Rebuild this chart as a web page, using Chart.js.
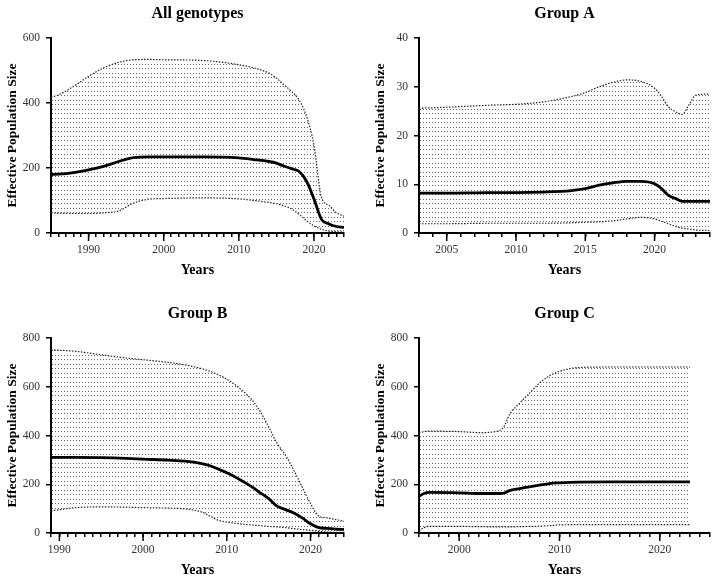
<!DOCTYPE html>
<html><head><meta charset="utf-8">
<script src="https://cdn.jsdelivr.net/npm/chart.js@4.4.1/dist/chart.umd.min.js"></script>
<style>
body{margin:0;background:#fff;width:716px;height:582px;position:relative;overflow:hidden}
canvas{position:absolute}
</style></head><body>
<canvas id="c1" width="358" height="282" style="left:0px;top:0px"></canvas>
<canvas id="c2" width="348" height="282" style="left:368px;top:0px"></canvas>
<canvas id="c3" width="358" height="282" style="left:0px;top:300px"></canvas>
<canvas id="c4" width="348" height="282" style="left:368px;top:300px"></canvas>
<script>
// ---- Data: All genotypes ----
const allYears  = [1985,1986,1988,1990,1992,1994,1996,1998,2000,2005,2010,2012,2014,2015,2016,2017,2018,2019,2020,2021,2022,2023,2024];
const allMedian = [180,181,186,194,205,220,232,234,234,234,231,226,220,215,206,198,190,160,105,42,28,20,17];
const allUpper  = [418,425,451,482,508,525,533,534,533,531,518,508,492,477,456,436,410,360,270,110,85,62,52];
const allLower  = [62,61,60,60,62,68,92,104,106,108,105,100,94,90,84,74,58,38,22,11,6,4,3];

// ---- Data: Group A ----
const aYears  = [2003,2005,2008,2010,2012,2014,2015,2016,2017,2018,2019,2020,2020.5,2021,2021.5,2022,2022.5,2023,2024];
const aMedian = [8.2,8.2,8.3,8.3,8.4,8.7,9.1,9.8,10.3,10.6,10.6,10.1,9.1,7.7,7.1,6.5,6.5,6.5,6.5];
const aUpper  = [25.6,25.8,26.2,26.4,26.9,28.0,28.8,30.0,30.9,31.4,31.1,29.7,28.0,25.9,24.9,24.3,26.4,28.3,28.5];
const aLower  = [1.9,1.9,2.0,2.0,2.0,2.1,2.2,2.3,2.5,2.9,3.2,2.9,2.4,1.9,1.4,1.0,0.8,0.6,0.5];

// ---- Data: Group B ----
const bYears  = [1989,1992,1995,1998,2000,2003,2005,2007,2008,2009,2010,2011,2012,2013,2014,2015,2016,2017,2018,2019,2020,2021,2022,2023,2024];
const bMedian = [310,310,309,306,303,299,295,285,276,262,247,230,210,189,165,141,110,96,82,62,38,22,19,16,15];
const bUpper  = [752,745,731,718,711,700,690,674,663,649,631,608,580,546,498,436,368,320,258,189,121,69,62,55,49];
const bLower  = [91,104,107,106,104,102,99,86,69,52,45,40,36,33,30,27,25,22,18,14,11,7,4,3,3];

// ---- Data: Group C ----
const cYears  = [1996,1996.5,1997,2000,2002,2004,2004.5,2005,2006,2007,2008,2009,2010,2011,2012,2015,2020,2023];
const cMedian = [151,162,167,165,162,162,164,174,182,189,196,203,206,208,209,210,210,210];
const cUpper  = [409,416,418,416,412,420,440,484,532,573,615,645,663,674,679,681,681,681];
const cLower  = [8,22,27,27,26,25,25,25,26,27,28,30,33,34,34,34,34,34];

// ---- Text ----
const yTitle = 'Effective Population Size';
const xTitle = 'Years';

const FONT = "'Liberation Serif','Times New Roman',serif";
Chart.defaults.font.family = FONT;

const majorTicks = {
  id: 'majorTicks',
  afterDraw(chart, args, opts) {
    const s = chart.scales.x, ctx = chart.ctx;
    ctx.save();
    ctx.strokeStyle = '#000';
    ctx.lineWidth = 1.5;
    s.ticks.forEach(t => {
      if (Math.round(t.value) % opts.every === 0) {
        const x = s.getPixelForValue(t.value);
        ctx.beginPath(); ctx.moveTo(x, s.top); ctx.lineTo(x, s.top + 8); ctx.stroke();
      }
    });
    ctx.restore();
  }
};

function pts(xs, ys) { return xs.map((x, i) => ({x: x, y: ys[i]})); }

function makePattern(ctx) {
  const t = document.createElement('canvas');
  t.width = 3; t.height = 9;
  const g = t.getContext('2d');
  g.fillStyle = '#666';
  g.fillRect(1, 1, 1, 1);
  g.fillRect(1, 5, 1, 1);
  return ctx.createPattern(t, 'repeat');
}

function makeChart(id, title, years, median, upper, lower, xMin, xMax, major, yMax, yStep, padRight) {
  const el = document.getElementById(id);
  const ctx = el.getContext('2d');
  const pattern = makePattern(ctx);
  const band = {borderColor: '#222', borderWidth: 1.2, borderDash: [1.5, 1.5], pointRadius: 0, cubicInterpolationMode: 'monotone'};
  new Chart(ctx, {
    type: 'line',
    data: {
      datasets: [
        {label: 'median', data: pts(years, median), borderColor: '#000', borderWidth: 2.8, pointRadius: 0, cubicInterpolationMode: 'monotone', fill: false},
        Object.assign({label: 'upper', data: pts(years, upper), fill: '+1', backgroundColor: pattern}, band),
        Object.assign({label: 'lower', data: pts(years, lower), fill: false}, band)
      ]
    },
    plugins: [majorTicks],
    options: {
      responsive: false,
      animation: false,
      layout: {padding: {left: 0, right: padRight, top: 0, bottom: 0}},
      plugins: {
        legend: {display: false},
        tooltip: {enabled: false},
        majorTicks: {every: major},
        title: {display: true, text: title, fullSize: false, color: '#000',
                font: {size: 16, weight: 'bold', family: FONT}, padding: {top: 4, bottom: 14.8}}
      },
      scales: {
        x: {
          type: 'linear', min: xMin, max: xMax,
          afterFit(s) { s.height = 49; },
          border: {display: true, color: '#000', width: 2},
          grid: {display: true, drawOnChartArea: false, drawTicks: true, tickLength: 4, color: '#000', lineWidth: 1.5},
          ticks: {stepSize: 1, autoSkip: false, maxRotation: 0, padding: 6, color: '#333',
                  font: {size: 11.5, family: FONT},
                  callback: v => (Math.round(v) % major === 0 ? String(v) : '')},
          title: {display: true, text: xTitle, color: '#000', font: {size: 14, weight: 'bold', family: FONT}, padding: {top: 0, bottom: 3.6}}
        },
        y: {
          min: 0, max: yMax,
          afterFit(s) { s.width = 51; },
          border: {display: true, color: '#000', width: 2},
          grid: {display: true, drawOnChartArea: false, drawTicks: true, tickLength: 5, color: '#000', lineWidth: 1.5},
          ticks: {stepSize: yStep, padding: 6, color: '#333', font: {size: 11.5, family: FONT}},
          title: {display: true, text: yTitle, color: '#000', font: {size: 13.5, weight: 'bold', family: FONT}, padding: {top: 4, bottom: 0}}
        }
      }
    }
  });
}

makeChart('c1', 'All genotypes', allYears, allMedian, allUpper, allLower, 1985, 2024, 10, 600, 200, 14);
makeChart('c2', 'Group A', aYears, aMedian, aUpper, aLower, 2003, 2024, 5, 40, 10, 5);
makeChart('c3', 'Group B', bYears, bMedian, bUpper, bLower, 1989, 2024, 10, 800, 200, 14);
makeChart('c4', 'Group C', cYears, cMedian, cUpper, cLower, 1996, 2025, 10, 800, 200, 5);
</script>
</body></html>
